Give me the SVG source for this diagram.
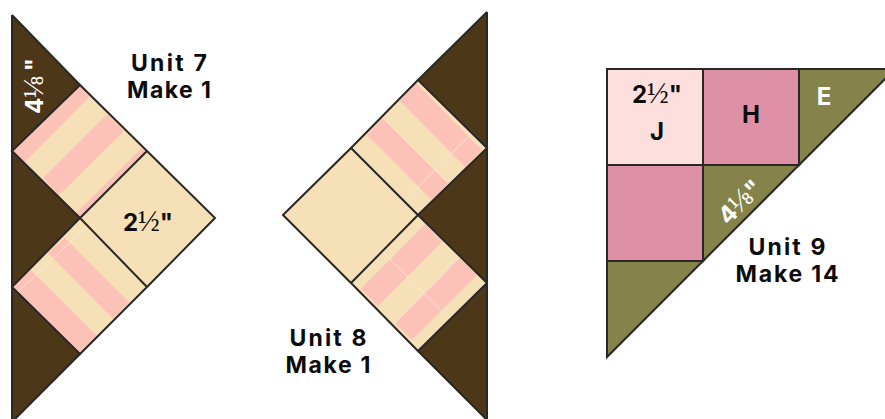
<svg xmlns="http://www.w3.org/2000/svg" width="885" height="419" viewBox="0 0 885 419">
<style>
.e{stroke:#2a2725;stroke-width:2;stroke-linejoin:miter}
.b{fill:#4d3719}
.c{fill:#f6e0b8}
.p{fill:#fcc1b7}
.o{fill:#85824a}
.m{fill:#de90a6}
.n{fill:none}
.l{stroke:#fdeedd;stroke-width:.7;fill:none}
.t{font-family:"Inter","Liberation Sans",sans-serif;font-weight:700;font-size:24px;fill:#0c0c0c;text-anchor:middle}
.u{font-size:23px}
.s{font-family:"Liberation Serif",serif;font-weight:400;font-size:29px}
.w{fill:#fff}
</style>
<g id="unit-7">
<path class="b" d="M12 15L80 85L12 151L80 218L12 287L80 354L12 422Z"/>
<path class="c" d="M12 151L80 85L147 151L80 218Z"/>
<path class="p" d="M12 151L80 85L89 97L25 162Z"/>
<path class="p" d="M107 114L124 131L59 195L43 178Z"/>
<path class="p" d="M142 148L147 153L80 218L76 213Z"/>
<path class="c" d="M147 151L215 218L147 287L80 218Z"/>
<path class="c" d="M12 287L80 218L147 287L80 354Z"/>
<path class="p" d="M12 287L31 270L97 336L80 354Z"/>
<path class="p" d="M48 253L65 238L129 302L113 319Z"/>
<path class="l" d="M18 292L85 228"/>
<path class="n e" d="M12 151L80 85L147 151L80 218ZM147 151L215 218L147 287L80 218ZM12 287L80 218L147 287L80 354Z"/>
<path class="n e" d="M12 15V419M12 15L80 85M80 354L12 422"/>
</g>
<g id="unit-8">
<path class="b" d="M487 12L418 80L487 148L418 215L487 283L418 351L487 420Z"/>
<path class="c" d="M351 148L418 80L487 148L418 215Z"/>
<path class="p" d="M416 83L400 101L465 167L482 150Z"/>
<path class="p" d="M383 118L448 183L432 200L367 135Z"/>
<path class="l" d="M383 118L448 183M407 198L469 136"/>
<path class="c" d="M283 215L351 148L418 215L351 283Z"/>
<path class="c" d="M351 283L418 215L487 283L418 351Z"/>
<path class="p" d="M425 224L442 242L378 306L361 289Z"/>
<path class="p" d="M459 258L477 275L412 340L395 323Z"/>
<path class="l" d="M459 258L395 323M383 252L448 318"/>
<path class="n e" d="M351 148L418 80L487 148L418 215ZM283 215L351 148L418 215L351 283ZM351 283L418 215L487 283L418 351Z"/>
<path class="n e" d="M487 12V419M487 12L418 80M418 351L487 420"/>
</g>
<g id="unit-9">
<rect x="607" y="69" width="96" height="96" fill="#fde0dd" class="e"/>
<rect x="703" y="69" width="96" height="96" class="m e"/>
<rect x="607" y="165" width="96" height="96" class="m e"/>
<path class="o e" d="M799 69H895L799 165Z"/>
<path class="o e" d="M703 165H799L703 261Z"/>
<path class="o e" d="M607 261H703L607 357Z"/>
</g>
<g id="labels">
<text class="t u" x="169" y="71" textLength="76">Unit 7</text>
<text class="t u" x="169" y="98" textLength="84">Make 1</text>
<text class="t" x="148" y="231">2<tspan class="s">½</tspan>"</text>
<text class="t w" transform="translate(43 86) rotate(-90)">4<tspan class="s">⅛</tspan><tspan dx="5">"</tspan></text>
<text class="t u" x="328" y="346" textLength="77">Unit 8</text>
<text class="t u" x="328" y="373" textLength="85">Make 1</text>
<text class="t" x="657" y="103">2<tspan class="s">½</tspan>"</text>
<text class="t" x="657" y="140">J</text>
<text class="t" x="751" y="123">H</text>
<text class="t w" x="824" y="105">E</text>
<text class="t w" transform="translate(746 208) rotate(-45)">4<tspan class="s">⅛</tspan>"</text>
<text class="t u" x="787" y="255" textLength="77">Unit 9</text>
<text class="t u" x="787" y="282" textLength="103">Make 14</text>
</g>
</svg>
